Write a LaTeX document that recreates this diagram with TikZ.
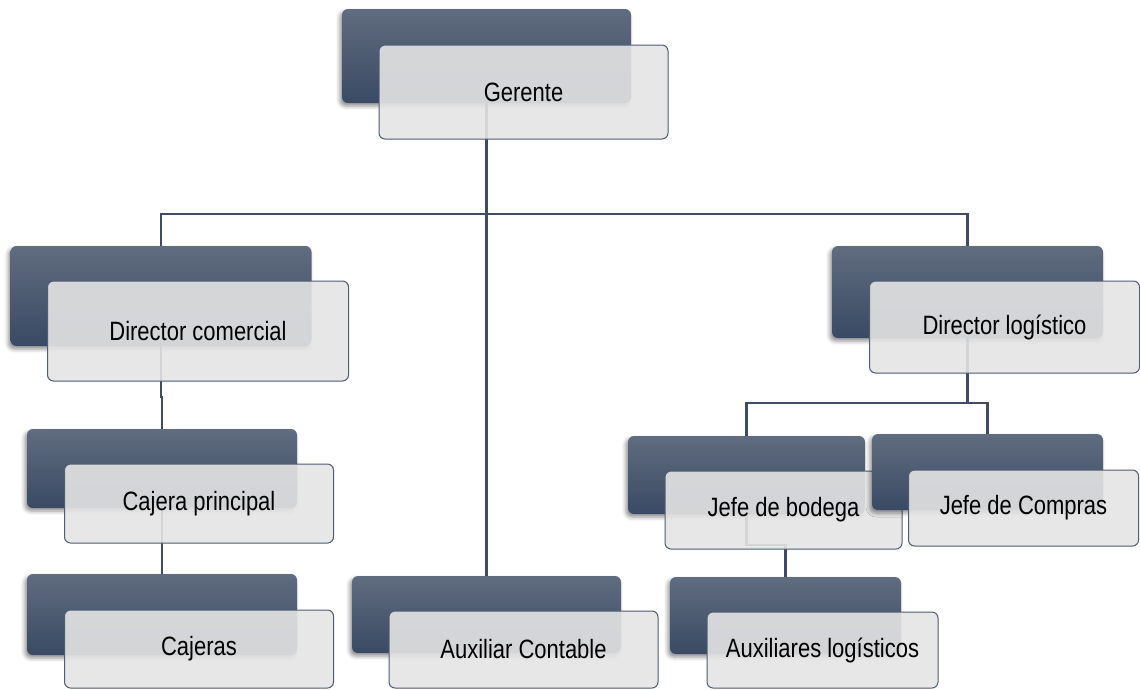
\documentclass[tikz,border=0pt]{standalone}
\usepackage{fontspec}
\setmainfont{Liberation Sans}[FakeStretch=0.83]
\usepackage{xcolor}
\usetikzlibrary{calc, shadows.blur}
\pgfdeclarelayer{background}
\pgfsetlayers{background,main}

\definecolor{slatetop}{HTML}{606C7F}
\definecolor{slatebot}{HTML}{3A4A64}
\definecolor{slateline}{HTML}{3E4C65}
\definecolor{cardfill}{HTML}{E4E4E4}

\tikzset{
    darkbox/.style={rectangle, rounded corners=6pt, inner sep=0pt,
        top color=slatetop, bottom color=slatebot,
        blur shadow={shadow xshift=-2pt, shadow yshift=-3pt, shadow blur radius=4pt, shadow opacity=45}},
    lightbox/.style={rectangle, rounded corners=6pt, inner sep=0pt,
        draw=slatebot!90, line width=1pt, fill=cardfill, fill opacity=0.9, text opacity=1,
        font=\fontsize{26.5}{31}\selectfont},
    link/.style={draw=slateline, line width=2.2pt}
}

\begin{document}
\begin{tikzpicture}[x=1pt, y=-1pt]
    \useasboundingbox (0,0) rectangle (1140,689);

    % Gerente
    \node[darkbox, minimum width=289, minimum height=94] (gerenteB) at (486.5,56) {};
    \node[lightbox, minimum width=289, minimum height=94] (gerente) at ($(gerenteB)+(37,36)$) {Gerente};

    % Director comercial
    \node[darkbox, minimum width=301, minimum height=100] (dircomB) at (161,296) {};
    \node[lightbox, minimum width=301, minimum height=100] (dircom) at ($(dircomB)+(37,35)$) {Director comercial};

    % Director logistico
    \node[darkbox, minimum width=271, minimum height=92] (dirlogB) at (967.5,292) {};
    \node[lightbox, minimum width=270, minimum height=92] (dirlog) at ($(dirlogB)+(37,35)$) {Director logístico};

    % Cajera principal
    \node[darkbox, minimum width=270, minimum height=79] (cajeraB) at (162,468.5) {};
    \node[lightbox, minimum width=269, minimum height=79] (cajera) at ($(cajeraB)+(37,35)$) {Cajera principal};

    % Cajeras
    \node[darkbox, minimum width=270, minimum height=81] (cajerasB) at (162,614.5) {};
    \node[lightbox, minimum width=269, minimum height=78] (cajeras) at ($(cajerasB)+(37,34.5)$) {Cajeras};

    % Auxiliar Contable
    \node[darkbox, minimum width=269, minimum height=77] (auxconB) at (486.5,614.5) {};
    \node[lightbox, minimum width=269, minimum height=77] (auxcon) at ($(auxconB)+(37,35)$) {Auxiliar Contable};

    % Jefe de bodega
    \node[darkbox, minimum width=237, minimum height=78] (bodegaB) at (746.5,475) {};
    \node[lightbox, minimum width=237, minimum height=78] (bodega) at ($(bodegaB)+(37,35)$) {Jefe de bodega};

    % Jefe de Compras
    \node[darkbox, minimum width=231, minimum height=76] (comprasB) at (987.5,472) {};
    \node[lightbox, minimum width=230, minimum height=76] (compras) at ($(comprasB)+(36,36)$) {Jefe de Compras};

    % Auxiliares logisticos
    \node[darkbox, minimum width=231, minimum height=77] (auxlogB) at (785.5,615.5) {};
    \node[lightbox, minimum width=231, minimum height=76] (auxlog) at ($(auxlogB)+(37,34.5)$) {Auxiliares logísticos};

    % Draw the connectors behind the boxes
    \begin{pgfonlayer}{background}
        \draw[link] (gerenteB.south) -- (auxconB.north);
        \draw[link] (dircomB.north) |- (gerenteB.south |- 0,214) -| (dirlogB.north);
        \draw[link] (dircomB.south) -- (dircomB.south |- 0,397) -| (cajeraB.north);
        \draw[link] (cajeraB.south) -- (cajerasB.north);
        \draw[link] (bodegaB.north) |- (dirlogB.south |- 0,403) -| (comprasB.north);
        \draw[link] (dirlogB.south) -- (dirlogB.south |- 0,403);
        \draw[link] (bodegaB.south) -- (bodegaB.south |- 0,545) -| (auxlogB.north);
    \end{pgfonlayer}

\end{tikzpicture}
\end{document}
